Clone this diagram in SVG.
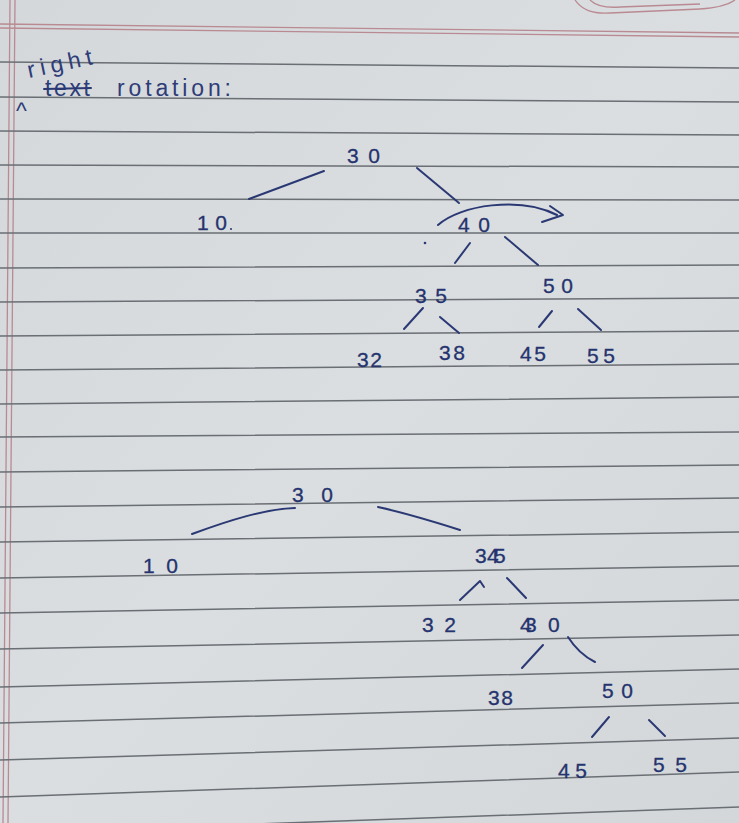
<svg xmlns="http://www.w3.org/2000/svg" width="739" height="823" viewBox="0 0 739 823">
<defs>
<linearGradient id="paper" x1="0" y1="0" x2="1" y2="1">
<stop offset="0" stop-color="#d4d8db"/>
<stop offset="0.5" stop-color="#dadee0"/>
<stop offset="1" stop-color="#d3d7da"/>
</linearGradient>
<style>
.rule{stroke:#6a6f75;stroke-width:1.5;fill:none}
.red{stroke:#b98a92;stroke-width:1.3;fill:none}
.t{font-family:"Liberation Sans","DejaVu Sans",sans-serif;font-size:21px;fill:#25336e;stroke:#25336e;stroke-width:0.3}
.h{font-family:"Liberation Sans","DejaVu Sans",sans-serif;font-size:23px;fill:#2e3c78}
.c{stroke:#2a3874;stroke-width:2;fill:none;stroke-linecap:round;stroke-linejoin:round}
</style>
</defs>
<rect width="739" height="823" fill="url(#paper)"/>
<g id="paper-lines">
<path class="red" d="M0,24 L739,33 M0,28 L739,37"/>
<path class="red" d="M575,0 C582,10 592,14 610,13 L700,9 C716,8 728,5 735,0 M590,0 C596,6 606,8 620,7 L700,4"/>
<path class="red" d="M10,0 L3,823 M15,0 L8,823"/>
<path class="rule" d="M0,62 L739,68 M0,97 L739,102 M0,131 L739,135 M0,165 L739,167 M0,199 L739,200 M0,233 L739,233 M0,268 L739,265 M0,302 L739,298 M0,336 L739,331 M0,370 L739,364 M0,404 L739,397 M0,437 L739,432 M0,472 L739,465 M0,507 L739,498 M0,542 L739,532 M0,578 L739,566 M0,613 L739,600 M0,649 L739,635 M0,687 L739,669 M0,723 L739,703 M0,760 L739,738 M0,797 L739,772 M0,833 L739,807"/>
</g>
<g id="title">
<text class="h" x="29" y="78" textLength="66" font-size="22" transform="rotate(-12 29 78)">right</text>
<text class="h" x="45" y="96" textLength="45">text</text>
<path class="c" d="M44,89 L91,88" stroke-width="1.6"/>
<text class="h" x="117" y="96" textLength="114">rotation:</text>
<text class="h" x="16" y="119" font-size="16">^</text>
</g>
<g id="connectors">
<path class="c" d="M249,199 L324,171"/>
<path class="c" d="M417,168 L459,203"/>
<path class="c" d="M438,225 C460,205 520,196 557,215"/>
<path class="c" d="M550,206 L563,215 L542,222"/>
<circle cx="425" cy="243" r="1.3" fill="#2a3874"/>
<path class="c" d="M455,263 L470,243"/>
<path class="c" d="M505,237 L538,265"/>
<path class="c" d="M404,329 L423,308"/>
<path class="c" d="M440,317 L459,333"/>
<path class="c" d="M539,327 L552,311"/>
<path class="c" d="M578,309 L601,330"/>
<path class="c" d="M192,534 C230,520 265,509 295,508"/>
<path class="c" d="M378,507 C405,513 435,522 460,530"/>
<path class="c" d="M460,600 L480,581 L484,587"/>
<path class="c" d="M507,578 L526,598"/>
<path class="c" d="M522,668 L543,645"/>
<path class="c" d="M568,637 C575,648 585,657 595,662"/>
<path class="c" d="M592,737 L609,717"/>
<path class="c" d="M649,720 L665,736"/>
</g>
<g id="tree1-30"><text class="t" x="347" y="163" textLength="33">30</text></g>
<g id="tree1-10"><text class="t" x="197" y="230" textLength="30">10</text><circle cx="231" cy="229" r="1" fill="#27346f"/></g>
<g id="tree1-40"><text class="t" x="458" y="232" textLength="32">40</text></g>
<g id="tree1-35"><text class="t" x="415" y="303" textLength="32">35</text></g>
<g id="tree1-50"><text class="t" x="543" y="293" textLength="30">50</text></g>
<g id="tree1-32"><text class="t" x="357" y="367" textLength="25">32</text></g>
<g id="tree1-38"><text class="t" x="439" y="360" textLength="26">38</text></g>
<g id="tree1-45"><text class="t" x="520" y="361" textLength="26">45</text></g>
<g id="tree1-55"><text class="t" x="587" y="363" textLength="28">55</text></g>
<g id="tree2-30"><text class="t" x="292" y="502" textLength="41">30</text></g>
<g id="tree2-10"><text class="t" x="143" y="573" textLength="35">10</text></g>
<g id="tree2-35"><text class="t" x="475 487 494" y="563">345</text></g>
<g id="tree2-32"><text class="t" x="422" y="632" textLength="34">32</text></g>
<g id="tree2-40"><text class="t" x="520 525 548" y="632">430</text></g>
<g id="tree2-38"><text class="t" x="488" y="705" textLength="25">38</text></g>
<g id="tree2-50"><text class="t" x="602" y="698" textLength="31">50</text></g>
<g id="tree2-45"><text class="t" x="558" y="778" textLength="29">45</text></g>
<g id="tree2-55"><text class="t" x="653" y="772" textLength="34">55</text></g>
</svg>
